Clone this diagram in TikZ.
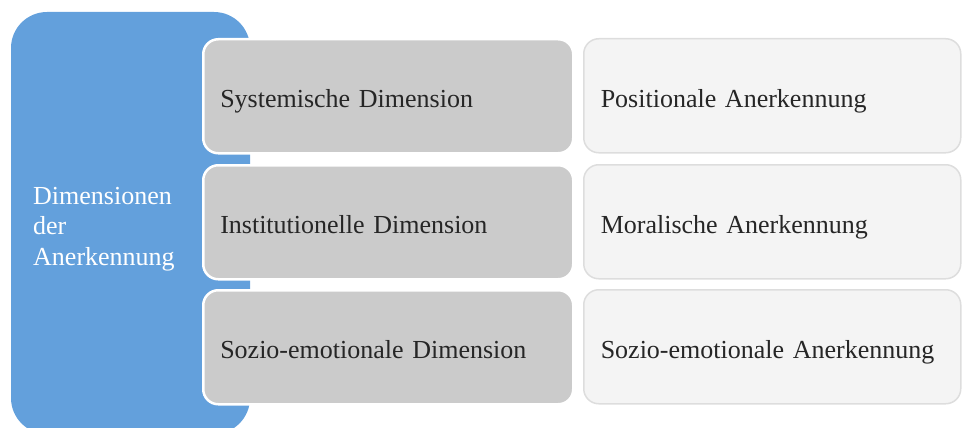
\documentclass[tikz,border=0pt]{standalone}
\usepackage{fontspec}
\setmainfont{Liberation Serif}
\definecolor{dimblue}{RGB}{99,160,220}
\definecolor{dimgray}{RGB}{203,203,203}
\definecolor{recfill}{RGB}{244,244,244}
\definecolor{recline}{RGB}{221,221,221}
\definecolor{txt}{RGB}{38,38,38}
\tikzset{
  lbl/.style={font=\fontsize{26}{30}\selectfont, text=txt, align=left,
    inner xsep=17pt, inner ysep=0pt, text height=26pt, text depth=3pt,
    minimum height=114pt, anchor=north west, rounded corners=15pt},
  dimbox/.style={lbl, fill=dimgray, draw=white, line width=2.5pt, text width=336pt},
  recbox/.style={lbl, fill=recfill, draw=recline, line width=1.5pt, text width=343pt},
}
\begin{document}
\begin{tikzpicture}[x=1pt,y=-1pt]
  \useasboundingbox (0,0) rectangle (962,428);
  \clip (0,0) rectangle (962,428);
  % main category panel, running past the lower edge
  \fill[dimblue, rounded corners=36pt] (11,12) rectangle (250,434);
  \node[font=\fontsize{26}{30.4}\selectfont, text=white, align=left, inner sep=0pt,
        anchor=north west] (main) at (33,187) {Dimensionen\\der\\Anerkennung};
  % dimensions
  \node[dimbox] (sys) at (202,38)  {Systemische Dimension};
  \node[dimbox] (ins) at (202,164) {Institutionelle Dimension};
  \node[dimbox] (soz) at (202,289) {Sozio-emotionale Dimension};
  % forms of recognition
  \node[recbox] (pos) at (583,38)  {Positionale Anerkennung};
  \node[recbox] (mor) at (583,164) {Moralische Anerkennung};
  \node[recbox] (emo) at (583,289) {Sozio-emotionale Anerkennung};
\end{tikzpicture}
\end{document}
